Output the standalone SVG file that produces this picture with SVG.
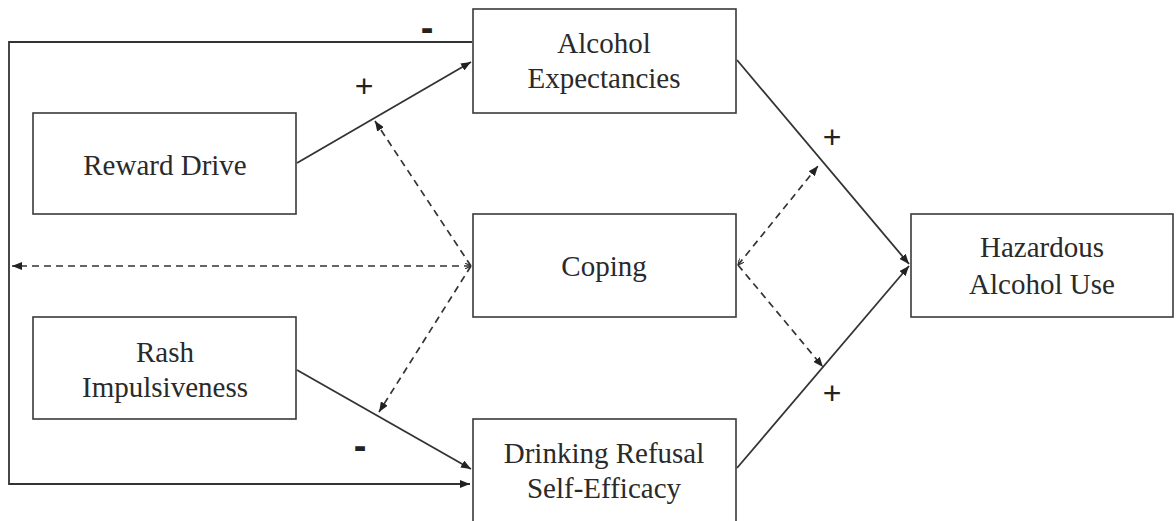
<svg xmlns="http://www.w3.org/2000/svg" width="1176" height="521" viewBox="0 0 1176 521">
<style>
.box{fill:#fff;stroke:#3a3a3a;stroke-width:1.6}
.lbl{font-family:"Liberation Serif","Times New Roman",serif;font-size:29px;fill:#2a2a2a;text-anchor:middle}
.sign{font-family:"Liberation Sans",Arial,sans-serif;font-size:32px;fill:#222;text-anchor:middle}
.minus{font-family:"Liberation Sans",Arial,sans-serif;font-size:38px;font-weight:bold;fill:#222;text-anchor:middle}
.solid{fill:none;stroke:#333;stroke-width:1.8}
.dash{fill:none;stroke:#333;stroke-width:1.7;stroke-dasharray:7 5}
</style>
<defs>
<marker id="arr" viewBox="0 0 10 8" refX="10" refY="4" markerWidth="10" markerHeight="8" markerUnits="userSpaceOnUse" orient="auto">
<path d="M0,0 L10,4 L0,8 Z" fill="#222"/>
</marker>
<marker id="tick" viewBox="0 0 8 8" refX="8" refY="4" markerWidth="6" markerHeight="6" markerUnits="userSpaceOnUse" orient="auto-start-reverse">
<path d="M0,0 L8,4 L0,8" fill="none" stroke="#333" stroke-width="1.5"/>
</marker>
</defs>
<g id="connectors">
<polyline class="solid" points="472,42 9,42 9,484 470,484" marker-end="url(#arr)"/>
<line class="solid" x1="297" y1="163" x2="471" y2="62" marker-end="url(#arr)"/>
<line class="solid" x1="297" y1="370" x2="471" y2="469" marker-end="url(#arr)"/>
<line class="solid" x1="737" y1="60" x2="909" y2="264" marker-end="url(#arr)"/>
<line class="solid" x1="737" y1="468" x2="909" y2="266" marker-end="url(#arr)"/>
<line class="dash" x1="471" y1="266" x2="12" y2="266" marker-start="url(#tick)" marker-end="url(#arr)"/>
<line class="dash" x1="471" y1="266" x2="375" y2="121" marker-end="url(#arr)"/>
<line class="dash" x1="471" y1="266" x2="379" y2="412" marker-end="url(#arr)"/>
<line class="dash" x1="738" y1="265" x2="818" y2="166" marker-start="url(#tick)" marker-end="url(#arr)"/>
<line class="dash" x1="738" y1="265" x2="823" y2="367" marker-end="url(#arr)"/>
</g>
<g id="signs">
<text class="minus" x="427" y="41">-</text>
<text class="sign" x="364" y="97">+</text>
<text class="sign" x="832" y="148">+</text>
<text class="sign" x="832" y="404">+</text>
<text class="minus" x="360" y="459">-</text>
</g>
<g id="node-alcohol-expectancies">
<rect class="box" x="473" y="9" width="263" height="104"/>
<text class="lbl" x="604" y="53">Alcohol</text>
<text class="lbl" x="604" y="88">Expectancies</text>
</g>
<g id="node-reward-drive">
<rect class="box" x="33" y="113" width="263" height="101"/>
<text class="lbl" x="165" y="175">Reward Drive</text>
</g>
<g id="node-coping">
<rect class="box" x="473" y="214" width="263" height="103"/>
<text class="lbl" x="604" y="276">Coping</text>
</g>
<g id="node-hazardous-alcohol-use">
<rect class="box" x="911" y="214" width="262" height="103"/>
<text class="lbl" x="1042" y="257">Hazardous</text>
<text class="lbl" x="1042" y="294">Alcohol Use</text>
</g>
<g id="node-rash-impulsiveness">
<rect class="box" x="33" y="317" width="263" height="102"/>
<text class="lbl" x="165" y="362">Rash</text>
<text class="lbl" x="165" y="397">Impulsiveness</text>
</g>
<g id="node-drinking-refusal-self-efficacy">
<rect class="box" x="473" y="419" width="263" height="110"/>
<text class="lbl" x="604" y="463">Drinking Refusal</text>
<text class="lbl" x="604" y="498">Self-Efficacy</text>
</g>
</svg>
